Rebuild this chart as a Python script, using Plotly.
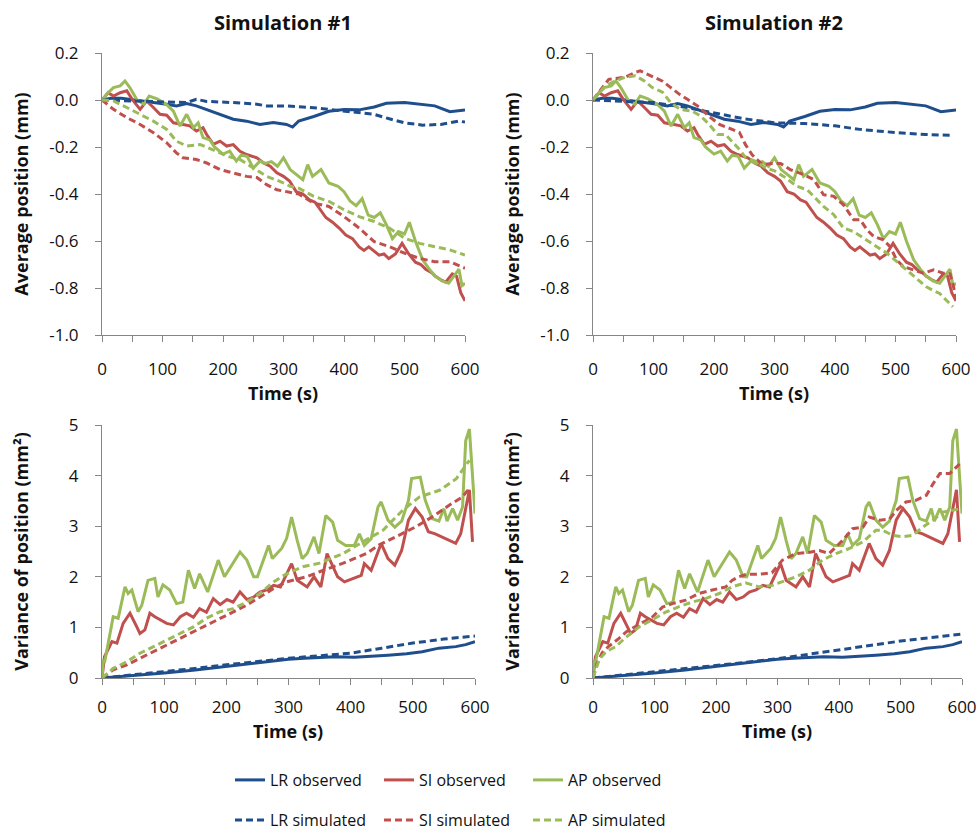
import plotly.graph_objects as go

# ---------------- data ----------------
# Average position (mm), observed (same in both simulations)
t_lr_obs_pos = [0,15,32,54,75,107,123,140,156,173,195,217,239,261,283,305,315,325,350,375,400,425,450,470,500,525,550,575,600]
lr_obs_pos = [0,0.007,0.007,0,-0.005,-0.018,-0.025,-0.015,-0.025,-0.04,-0.061,-0.082,-0.09,-0.104,-0.096,-0.104,-0.115,-0.09,-0.07,-0.048,-0.04,-0.042,-0.03,-0.014,-0.011,-0.019,-0.025,-0.05,-0.043]

t_si_obs_pos = [0,10,19,30,41,50,63,74,85,96,107,118,134,145,156,167,173,184,195,206,217,228,239,256,267,278,289,300,310,321,332,343,352,362,370,381,392,403,414,425,433,441,450,458,466,474,485,496,507,518,527,535,545,551,560,568,579,586,593,600]
si_obs_pos = [0,0.031,0.017,0.031,0.039,0.003,-0.04,-0.004,-0.032,-0.061,-0.065,-0.097,-0.104,-0.11,-0.132,-0.118,-0.147,-0.189,-0.175,-0.196,-0.19,-0.218,-0.232,-0.246,-0.268,-0.282,-0.31,-0.325,-0.345,-0.39,-0.4,-0.425,-0.435,-0.47,-0.5,-0.52,-0.545,-0.575,-0.59,-0.625,-0.64,-0.625,-0.645,-0.66,-0.655,-0.675,-0.655,-0.61,-0.655,-0.69,-0.7,-0.72,-0.735,-0.75,-0.765,-0.775,-0.74,-0.75,-0.82,-0.855]

t_ap_obs_pos = [0,10,19,30,38,46,58,69,78,91,107,118,129,140,151,159,167,178,186,200,211,222,230,240,250,261,270,280,290,300,311,322,332,340,348,362,375,390,400,410,420,430,440,450,460,470,480,490,500,508,518,530,541,551,562,573,584,590,595,600]
ap_obs_pos = [0,0.031,0.053,0.06,0.081,0.053,0,-0.018,0.017,0.005,-0.02,-0.047,-0.111,-0.061,-0.118,-0.097,-0.16,-0.17,-0.2,-0.23,-0.218,-0.26,-0.235,-0.24,-0.29,-0.26,-0.27,-0.262,-0.282,-0.246,-0.296,-0.318,-0.339,-0.275,-0.325,-0.296,-0.353,-0.367,-0.39,-0.43,-0.45,-0.42,-0.49,-0.5,-0.48,-0.53,-0.59,-0.56,-0.57,-0.52,-0.6,-0.68,-0.72,-0.75,-0.77,-0.78,-0.74,-0.72,-0.79,-0.78]

# Average position (mm), simulation #1
t_lr_sim1_pos = [0,54,107,140,156,173,217,256,272,305,350,400,450,475,500,530,560,590,600]
lr_sim1_pos = [0,-0.004,-0.011,-0.011,0.003,-0.006,-0.011,-0.018,-0.025,-0.025,-0.033,-0.047,-0.061,-0.08,-0.097,-0.107,-0.104,-0.09,-0.094]
t_si_sim1_pos = [0,19,41,63,85,107,123,134,156,173,195,217,239,256,272,289,305,325,350,375,400,425,450,475,500,525,550,575,600]
si_sim1_pos = [0,-0.04,-0.075,-0.104,-0.139,-0.182,-0.225,-0.246,-0.253,-0.268,-0.296,-0.31,-0.325,-0.33,-0.36,-0.382,-0.389,-0.4,-0.439,-0.453,-0.496,-0.545,-0.603,-0.624,-0.652,-0.674,-0.688,-0.688,-0.716]
t_ap_sim1_pos = [0,19,41,63,85,107,123,140,162,189,206,228,250,272,294,311,325,350,375,400,425,450,475,500,525,550,575,600]
ap_sim1_pos = [0,-0.004,-0.032,-0.061,-0.09,-0.125,-0.175,-0.196,-0.189,-0.218,-0.239,-0.253,-0.289,-0.325,-0.346,-0.367,-0.375,-0.41,-0.431,-0.467,-0.496,-0.517,-0.545,-0.588,-0.61,-0.624,-0.638,-0.66]

# Average position (mm), simulation #2
t_lr_sim2_pos = [0,50,100,150,200,250,300,350,400,441,502,550,595]
lr_sim2_pos = [0,-0.004,-0.011,-0.03,-0.054,-0.08,-0.097,-0.1,-0.11,-0.125,-0.139,-0.147,-0.15]
t_si_sim2_pos = [0,15,26,53,70,78,90,103,115,128,143,156,176,192,209,230,242,252,263,280,296,310,326,348,365,381,398,414,431,442,453,464,480,491,502,513,530,546,563,579,590,596,600]
si_sim2_pos = [0,0.053,0.088,0.097,0.118,0.124,0.11,0.097,0.08,0.054,0.024,0.003,-0.031,-0.07,-0.104,-0.125,-0.138,-0.19,-0.233,-0.275,-0.27,-0.27,-0.296,-0.317,-0.339,-0.403,-0.41,-0.446,-0.51,-0.51,-0.553,-0.581,-0.595,-0.624,-0.681,-0.709,-0.723,-0.737,-0.723,-0.737,-0.74,-0.795,-0.852]
t_ap_sim2_pos = [0,20,37,53,70,85,98,115,128,144,164,178,192,206,219,230,242,252,268,285,301,315,337,354,365,381,398,414,431,453,469,486,502,519,535,551,562,573,584,595]
ap_sim2_pos = [0,0.06,0.081,0.097,0.103,0.081,0.053,0.033,-0.01,-0.04,-0.047,-0.068,-0.104,-0.147,-0.147,-0.175,-0.21,-0.245,-0.26,-0.288,-0.303,-0.325,-0.367,-0.382,-0.41,-0.453,-0.488,-0.545,-0.56,-0.595,-0.624,-0.652,-0.688,-0.723,-0.759,-0.795,-0.81,-0.823,-0.852,-0.88]

# Variance of position (mm^2), observed
t_lr_obs_var = [0,50,100,150,200,250,300,325,352,375,406,425,460,490,515,542,569,585,600]
lr_obs_var = [0,0.045,0.1,0.16,0.23,0.3,0.37,0.39,0.41,0.42,0.41,0.42,0.45,0.48,0.52,0.59,0.62,0.66,0.72]
t_si_obs_var = [0,4,16,24,34,45,56,61,69,77,85,95,104,115,126,136,147,157,168,179,190,201,211,222,233,244,254,265,276,287,297,305,314,330,341,352,362,379,390,406,417,422,433,449,460,471,482,493,504,515,525,536,547,558,569,577,585,591,596]
si_obs_var = [0,0.42,0.72,0.69,1.08,1.28,1.01,0.88,0.95,1.28,1.21,1.15,1.08,1.05,1.21,1.28,1.2,1.37,1.3,1.57,1.45,1.55,1.5,1.7,1.55,1.6,1.7,1.74,1.83,1.8,2.06,2.26,1.93,1.8,2.0,1.8,2.46,2.0,1.9,1.97,2.03,2.26,2.13,2.66,2.36,2.23,2.52,3.12,3.35,3.18,2.89,2.85,2.79,2.72,2.66,2.85,3.38,3.72,2.69]
t_ap_obs_var = [0,2,4,18,26,37,42,48,58,64,74,85,90,98,109,120,130,139,149,157,170,187,197,211,222,233,244,250,260,268,274,289,297,305,314,322,330,341,349,360,371,379,392,406,414,422,433,444,449,460,471,482,493,498,512,520,531,542,550,555,564,572,580,585,591,597,600]
ap_obs_var = [0,0.36,0.3,1.21,1.18,1.8,1.67,1.74,1.31,1.44,1.93,1.97,1.6,1.84,1.74,1.47,1.5,2.13,1.77,2.06,1.7,2.33,2.0,2.26,2.49,2.33,2.0,2.0,2.33,2.62,2.36,2.56,2.76,3.18,2.72,2.36,2.46,2.79,2.46,3.21,3.08,2.72,2.62,2.62,2.85,2.62,2.75,3.38,3.48,3.12,2.98,3.1,3.51,3.94,3.97,3.51,3.15,3.1,3.35,3.1,3.35,3.12,3.38,4.69,4.92,3.64,3.25]

# Variance of position (mm^2), simulation #1
t_lr_sim1_var = [0,50,100,150,200,250,300,350,400,450,500,550,600]
lr_sim1_var = [0,0.06,0.13,0.19,0.26,0.33,0.39,0.44,0.49,0.59,0.69,0.77,0.83]
t_si_sim1_var = [0,18,40,61,83,104,126,147,168,190,211,233,254,276,297,329,350,388,425,446,479,505,532,559,580,591]
si_sim1_var = [0,0.16,0.26,0.39,0.52,0.65,0.78,0.91,1.05,1.18,1.31,1.44,1.6,1.77,1.9,2.0,2.1,2.27,2.46,2.63,2.83,2.99,3.19,3.42,3.58,3.75]
t_ap_sim1_var = [0,18,40,61,83,104,126,147,168,190,211,233,254,276,297,323,350,388,425,452,484,511,543,570,591]
ap_sim1_var = [0,0.19,0.32,0.49,0.62,0.75,0.88,1.01,1.18,1.31,1.37,1.5,1.67,1.9,2.06,2.2,2.27,2.46,2.73,2.92,3.32,3.58,3.71,3.94,4.3]

# Variance of position (mm^2), simulation #2
t_lr_sim2_var = [0,50,100,150,200,250,300,350,400,450,500,550,600]
lr_sim2_var = [0,0.06,0.12,0.18,0.24,0.31,0.38,0.47,0.56,0.65,0.73,0.8,0.87]
t_si_sim2_var = [0,7,15,25,40,55,75,96,113,129,151,172,194,216,226,237,250,270,291,308,330,350,368,384,406,422,439,449,466,482,493,509,525,542,553,564,580,596]
si_sim2_var = [0,0.3,0.5,0.62,0.76,0.92,1.06,1.2,1.4,1.47,1.54,1.67,1.74,1.8,1.93,2.0,2.05,2.05,2.08,2.33,2.46,2.48,2.52,2.46,2.72,2.95,2.98,3.18,3.12,3.14,3.31,3.48,3.51,3.61,3.84,4.04,4.04,4.23]
t_ap_sim2_var = [0,10,21,37,53,75,96,118,140,161,183,205,226,248,270,291,314,330,352,373,395,417,439,460,471,487,504,520,536,553,569,585,599]
ap_sim2_var = [0,0.36,0.52,0.62,0.8,1.01,1.15,1.3,1.41,1.5,1.57,1.67,1.8,1.88,1.8,1.83,1.93,2.0,2.13,2.33,2.46,2.56,2.69,2.92,2.92,2.82,2.79,2.82,2.98,3.12,3.28,3.31,3.35]

# ticks and labels
x_ticks = [0, 100, 200, 300, 400, 500, 600]
x_ticklabels = ["0", "100", "200", "300", "400", "500", "600"]
pos_ticks = [-1.0, -0.8, -0.6, -0.4, -0.2, 0.0, 0.2]
pos_ticklabels = ["-1.0", "-0.8", "-0.6", "-0.4", "-0.2", "0.0", "0.2"]
var_ticks = [0, 1, 2, 3, 4, 5]
var_ticklabels = ["0", "1", "2", "3", "4", "5"]
panel_titles = ["Simulation #1", "Simulation #2"]
x_title = "Time (s)"
series_names = ["LR observed", "SI observed", "AP observed", "LR simulated", "SI simulated", "AP simulated"]

# ---------------- styling ----------------
W, H = 979, 833
FONT = "Open Sans"
C_LR, C_SI, C_AP = "#1F4E8C", "#C0504D", "#9BBB59"
AX = "#868686"
TXT = "#111111"
LW = 3
DASH = "7px,4px"

def px_x(p):
    return p / W

def px_y(p):
    return 1 - p / H

fig = go.Figure()

panels = [
    ("x", "y", [
        (t_lr_obs_pos, lr_obs_pos, C_LR, "solid", 0),
        (t_si_obs_pos, si_obs_pos, C_SI, "solid", 1),
        (t_ap_obs_pos, ap_obs_pos, C_AP, "solid", 2),
        (t_lr_sim1_pos, lr_sim1_pos, C_LR, DASH, 3),
        (t_si_sim1_pos, si_sim1_pos, C_SI, DASH, 4),
        (t_ap_sim1_pos, ap_sim1_pos, C_AP, DASH, 5),
    ]),
    ("x2", "y2", [
        (t_lr_obs_pos, lr_obs_pos, C_LR, "solid", 0),
        (t_si_obs_pos, si_obs_pos, C_SI, "solid", 1),
        (t_ap_obs_pos, ap_obs_pos, C_AP, "solid", 2),
        (t_lr_sim2_pos, lr_sim2_pos, C_LR, DASH, 3),
        (t_si_sim2_pos, si_sim2_pos, C_SI, DASH, 4),
        (t_ap_sim2_pos, ap_sim2_pos, C_AP, DASH, 5),
    ]),
    ("x3", "y3", [
        (t_lr_obs_var, lr_obs_var, C_LR, "solid", 0),
        (t_si_obs_var, si_obs_var, C_SI, "solid", 1),
        (t_ap_obs_var, ap_obs_var, C_AP, "solid", 2),
        (t_lr_sim1_var, lr_sim1_var, C_LR, DASH, 3),
        (t_si_sim1_var, si_sim1_var, C_SI, DASH, 4),
        (t_ap_sim1_var, ap_sim1_var, C_AP, DASH, 5),
    ]),
    ("x4", "y4", [
        (t_lr_obs_var, lr_obs_var, C_LR, "solid", 0),
        (t_si_obs_var, si_obs_var, C_SI, "solid", 1),
        (t_ap_obs_var, ap_obs_var, C_AP, "solid", 2),
        (t_lr_sim2_var, lr_sim2_var, C_LR, DASH, 3),
        (t_si_sim2_var, si_sim2_var, C_SI, DASH, 4),
        (t_ap_sim2_var, ap_sim2_var, C_AP, DASH, 5),
    ]),
]

for pi, (xa, ya, series) in enumerate(panels):
    for (tt, vv, col, dash, si) in series:
        fig.add_trace(go.Scatter(
            x=tt, y=vv, mode="lines", name=series_names[si],
            line=dict(color=col, width=LW, dash=dash),
            xaxis=xa, yaxis=ya,
            showlegend=(pi == 0),
            legend=("legend" if si < 3 else "legend2"),
            hoverinfo="skip",
        ))

tick_font = dict(family=FONT, size=17, color=TXT)
title_font = dict(family=FONT, size=18, color=TXT, weight="bold")

def xaxis_cfg(dom, anchor, standoff):
    return dict(
        domain=dom, anchor=anchor, range=[0, 600], automargin=False,
        tickvals=x_ticks, ticktext=x_ticklabels,
        ticks="outside", ticklen=6, tickcolor=AX, tickwidth=1,
        minor=dict(dtick=50, tick0=0, ticks="outside", ticklen=6, tickcolor=AX, tickwidth=1, showgrid=False),
        showline=True, linecolor=AX, linewidth=1,
        showgrid=False, zeroline=False,
        tickfont=tick_font, ticklabelstandoff=standoff,
    )

def yaxis_cfg(dom, anchor, rng, tv, tt, title, standoff):
    return dict(
        domain=dom, anchor=anchor, range=rng, automargin=False,
        tickvals=tv, ticktext=tt,
        ticks="outside", ticklen=6, tickcolor=AX, tickwidth=1,
        showline=True, linecolor=AX, linewidth=1,
        showgrid=False, zeroline=False,
        tickfont=tick_font, ticklabelstandoff=13,
        title=dict(text=title, font=title_font, standoff=standoff),
    )

top_dom = [px_y(335), px_y(53)]
bot_dom = [px_y(678), px_y(425)]
left_top_x = [px_x(102), px_x(465)]
right_top_x = [px_x(593), px_x(956)]
left_bot_x = [px_x(102), px_x(475)]
right_bot_x = [px_x(593), px_x(962)]

legend_common = dict(
    orientation="h", xanchor="left", yanchor="middle",
    font=dict(family=FONT, size=16, color=TXT),
    entrywidth=104, entrywidthmode="pixels",
    bgcolor="rgba(0,0,0,0)", borderwidth=0,
)

def text_ann(text, xp, yp, size):
    return dict(text=text, x=px_x(xp), y=px_y(yp), xref="paper", yref="paper",
                showarrow=False, xanchor="center", yanchor="middle",
                font=dict(family=FONT, size=size, color=TXT, weight="bold"))

fig.update_layout(
    width=W, height=H,
    margin=dict(l=0, r=0, t=0, b=0, autoexpand=False),
    paper_bgcolor="white", plot_bgcolor="white",
    font=dict(family=FONT, color=TXT),
    xaxis=xaxis_cfg(left_top_x, "y", 13),
    yaxis=yaxis_cfg(top_dom, "x", [-1.0, 0.2], pos_ticks, pos_ticklabels, "Average position (mm)", 15),
    xaxis2=xaxis_cfg(right_top_x, "y2", 13),
    yaxis2=yaxis_cfg(top_dom, "x2", [-1.0, 0.2], pos_ticks, pos_ticklabels, "Average position (mm)", 15),
    xaxis3=xaxis_cfg(left_bot_x, "y3", 8),
    yaxis3=yaxis_cfg(bot_dom, "x3", [0, 5], var_ticks, var_ticklabels, "Variance of position (mm²)", 35),
    xaxis4=xaxis_cfg(right_bot_x, "y4", 8),
    yaxis4=yaxis_cfg(bot_dom, "x4", [0, 5], var_ticks, var_ticklabels, "Variance of position (mm²)", 35),
    legend=dict(x=px_x(230), y=px_y(780), **legend_common),
    legend2=dict(x=px_x(230), y=px_y(820), **legend_common),
    showlegend=True,
    annotations=[
        text_ann(panel_titles[0], 283, 22, 20),
        text_ann(panel_titles[1], 774, 22, 20),
        text_ann(x_title, 283, 393, 18),
        text_ann(x_title, 774, 393, 18),
        text_ann(x_title, 288, 731, 18),
        text_ann(x_title, 777, 731, 18),
    ],
)

fig.write_html("out.html", config={"displayModeBar": False},
               post_script="document.body.style.margin='0px';")
